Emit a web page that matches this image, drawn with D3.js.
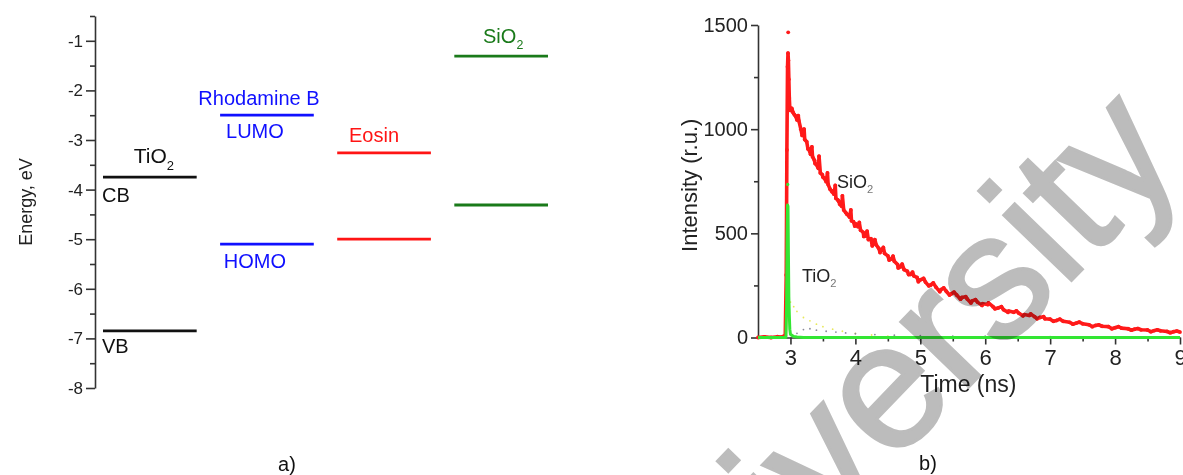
<!DOCTYPE html>
<html>
<head>
<meta charset="utf-8">
<script src="https://cdnjs.cloudflare.com/ajax/libs/d3/7.8.5/d3.min.js"></script>
<style>
  html, body { margin: 0; padding: 0; background: #fff; }
  svg { display: block; }
  text { font-family: Arial, "Liberation Sans", sans-serif; }
</style>
</head>
<body>
<svg id="chart" width="1183" height="475"></svg>
<script>
// ---- panel a) energy levels (eV) ----
const materials = ['TiO2', 'Rhodamine B', 'Eosin', 'SiO2'];
const upperLevels = [-3.75, -2.50, -3.26, -1.31];
const lowerLevels = [-6.85, -5.10, -5.00, -4.31];
const levelColors = ['#111111', '#1010ff', '#ff1414', '#1a7a1a'];
const energyTicks = [-8, -7, -6, -5, -4, -3, -2, -1];

// ---- panel b) decay curves ----
const sio2Time = [2.50, 2.60, 2.70, 2.80, 2.86, 2.92, 2.935, 2.945, 2.955, 2.962, 2.968, 2.975, 2.982, 2.99, 3.00,
  3.02, 3.04, 3.06, 3.08, 3.10, 3.13, 3.16, 3.19, 3.22, 3.25, 3.28, 3.31, 3.34, 3.37, 3.40, 3.43, 3.46, 3.49,
  3.52, 3.55, 3.58, 3.61, 3.64, 3.67, 3.70, 3.73, 3.76, 3.79, 3.82, 3.85, 3.88, 3.91, 3.94, 3.97, 4.00,
  4.04, 4.08, 4.12, 4.16, 4.20, 4.24, 4.28, 4.32, 4.36, 4.40, 4.45, 4.50, 4.55, 4.60, 4.65, 4.70, 4.75,
  4.80, 4.85, 4.90, 4.95, 5.00, 5.08, 5.16, 5.24, 5.32, 5.40, 5.48, 5.56, 5.64, 5.72, 5.80, 5.88, 5.96,
  6.04, 6.12, 6.20, 6.28, 6.36, 6.44, 6.52, 6.60, 6.68, 6.76, 6.84, 6.92, 7.00, 7.10, 7.20, 7.30, 7.40,
  7.50, 7.60, 7.70, 7.80, 7.90, 8.00, 8.10, 8.20, 8.30, 8.40, 8.50, 8.60, 8.70, 8.80, 8.90, 9.00];
const sio2Intensity = [0, 3, 0, 4, 2, 10, 300, 900, 1300, 1365, 1330, 1240, 1150, 1100, 1090,
  1100, 1080, 1070, 1062, 1045, 1040, 1000, 985, 950, 940, 905, 880, 868, 850, 830, 812, 790, 782,
  765, 748, 735, 712, 700, 688, 668, 660, 640, 630, 612, 600, 590, 578, 560, 556, 546,
  532, 515, 505, 488, 470, 474, 452, 445, 428, 420, 404, 392, 376, 366, 350, 340, 326,
  318, 303, 296, 288, 277, 266, 252, 242, 230, 222, 210, 204, 192, 186, 176, 170, 162,
  158, 148, 142, 134, 127, 121, 116, 110, 106, 100, 96, 90, 88, 82, 78, 73, 69,
  66, 61, 58, 54, 52, 47, 45, 42, 40, 37, 36, 33, 32, 29, 28, 26];
// noisy counts between the points above
const sio2Noise = [[3.12, 1065], [3.18, 970], [3.21, 1000], [3.27, 905], [3.33, 915], [3.38, 835],
  [3.44, 870], [3.50, 770], [3.57, 790], [3.63, 705], [3.69, 730], [3.74, 655], [3.80, 680], [3.87, 592],
  [3.93, 612], [3.99, 535], [4.06, 552], [4.13, 485], [4.18, 510], [4.26, 440], [4.30, 470], [4.38, 408],
  [4.43, 432], [4.52, 372], [4.58, 390], [4.66, 334], [4.72, 352], [4.82, 302], [4.88, 314], [4.97, 268],
  [5.05, 284], [5.13, 248], [5.20, 262], [5.30, 220], [5.36, 238], [5.45, 204], [5.52, 218], [5.62, 184],
  [5.70, 196], [5.78, 166], [5.85, 182], [5.95, 154], [6.05, 166], [6.15, 138], [6.25, 148], [6.35, 121],
  [6.48, 128], [6.58, 104], [6.70, 113], [6.80, 90], [6.90, 100], [7.05, 78], [7.15, 88], [7.35, 64],
  [7.45, 74], [7.65, 52], [7.75, 61], [7.95, 42], [8.05, 52], [8.25, 35], [8.35, 43], [8.55, 28],
  [8.65, 37], [8.85, 23], [8.95, 31]];
const sio2Outlier = [[2.965, 1465]];

const tio2Time = [2.50, 2.80, 2.93, 2.94, 2.948, 2.955, 2.962, 2.968, 2.975, 2.982, 2.99, 3.00, 3.05, 3.10, 3.20, 5.00, 7.00, 9.00];
const tio2Intensity = [0, 0, 0, 150, 480, 636, 630, 420, 196, 110, 40, 15, 5, 2, 0, 0, 0, 0];
const tio2Outlier = [[2.958, 735]];

const yellowTime = [3.00, 3.05, 3.10, 3.20, 3.30, 3.40, 3.50, 3.65, 3.80, 4.00, 4.25, 4.50, 5.00];
const yellowIntensity = [170, 148, 125, 96, 80, 64, 52, 40, 30, 20, 12, 7, 3];
const grayTime = [3.10, 3.20, 3.30, 3.40, 3.55, 3.70, 3.85, 4.00, 4.30, 4.60, 5.00, 5.50, 6.00, 7.00];
const grayIntensity = [20, 38, 42, 35, 30, 26, 22, 18, 14, 11, 9, 7, 6, 4];

const intensityTicks = [0, 500, 1000, 1500];
const timeTicks = [3, 4, 5, 6, 7, 8, 9];

const svg = d3.select('#chart');
svg.append('rect').attr('width', 1183).attr('height', 475).attr('fill', '#fff');

// ================= panel a =================
const yE = d3.scaleLinear().domain([-8, -0.5]).range([388, 16]);
const xM = d3.scaleBand().domain(materials).range([103, 548]).paddingInner(0.2);

const gA = svg.append('g');

const axisE = gA.append('g')
  .attr('transform', 'translate(95,0)')
  .call(d3.axisLeft(yE).tickValues(energyTicks).tickSize(9).tickSizeOuter(0).tickFormat(d => String(d)));
gA.append('g')
  .attr('transform', 'translate(95,0)')
  .call(d3.axisLeft(yE).tickValues(d3.range(-7.5, 0, 1)).tickSize(5).tickSizeOuter(0).tickFormat(''))
  .select('.domain').remove();
gA.selectAll('.domain, .tick line').attr('stroke', '#333').attr('stroke-width', 1.6);
axisE.selectAll('.tick text')
  .attr('font-size', 17).attr('fill', '#222').attr('x', -12)
  .attr('font-family', 'Arial, "Liberation Sans", sans-serif');

gA.append('text')
  .attr('transform', `translate(32,${yE(-4.25)}) rotate(-90)`)
  .attr('text-anchor', 'middle')
  .attr('font-size', 18).attr('fill', '#222')
  .text('Energy, eV');

const levels = materials.flatMap((m, i) => [
  { m, v: upperLevels[i], c: levelColors[i] },
  { m, v: lowerLevels[i], c: levelColors[i] }
]);
gA.selectAll('line.level')
  .data(levels).enter()
  .append('line')
  .classed('level', true)
  .attr('x1', d => xM(d.m))
  .attr('x2', d => xM(d.m) + xM.bandwidth())
  .attr('y1', d => yE(d.v))
  .attr('y2', d => yE(d.v))
  .attr('stroke', d => d.c)
  .attr('stroke-width', 2.8);

function label(g, x, y, txt, color, size, sub, anchor) {
  const t = g.append('text')
    .attr('x', x).attr('y', y)
    .attr('font-size', size)
    .attr('fill', color)
    .attr('text-anchor', anchor || 'start')
    .text(txt);
  if (sub) {
    t.append('tspan').attr('dy', size * 0.3).attr('font-size', size * 0.62).text(sub);
  }
  return t;
}

// TiO2
label(gA, xM('TiO2') + xM.bandwidth() / 2 + 4, yE(upperLevels[0]) - 14, 'TiO', '#111', 21, '2', 'middle');
label(gA, xM('TiO2') - 1, yE(upperLevels[0]) + 25, 'CB', '#111', 20);
label(gA, xM('TiO2') - 1, yE(lowerLevels[0]) + 22, 'VB', '#111', 20);
// Rhodamine B
label(gA, xM('Rhodamine B') + xM.bandwidth() / 2 - 8, yE(upperLevels[1]) - 10, 'Rhodamine B', levelColors[1], 20, null, 'middle');
label(gA, xM('Rhodamine B') + xM.bandwidth() / 2 - 12, yE(upperLevels[1]) + 23, 'LUMO', levelColors[1], 20, null, 'middle');
label(gA, xM('Rhodamine B') + xM.bandwidth() / 2 - 12, yE(lowerLevels[1]) + 24, 'HOMO', levelColors[1], 20, null, 'middle');
// Eosin
label(gA, xM('Eosin') + xM.bandwidth() / 2 - 10, yE(upperLevels[2]) - 11, 'Eosin', levelColors[2], 20, null, 'middle');
// SiO2
label(gA, xM('SiO2') + xM.bandwidth() / 2 + 2, yE(upperLevels[3]) - 13, 'SiO', levelColors[3], 20, '2', 'middle');

// ================= panel b =================
const xT = d3.scaleLinear().domain([2.5, 9]).range([758, 1180]);
const yI = d3.scaleLinear().domain([0, 1500]).range([337.5, 25]);
const gB = svg.append('g');

const yAxisB = gB.append('g')
  .attr('transform', `translate(${xT(2.5)},0)`)
  .call(d3.axisLeft(yI).tickValues(intensityTicks).tickSize(7).tickSizeOuter(0).tickFormat(d => String(d)));
gB.append('g')
  .attr('transform', `translate(${xT(2.5)},0)`)
  .call(d3.axisLeft(yI).tickValues([250, 750, 1250]).tickSize(4).tickFormat(''))
  .select('.domain').remove();
const xAxisB = gB.append('g')
  .attr('transform', `translate(0,${yI(0)})`)
  .call(d3.axisBottom(xT).tickValues(timeTicks).tickSize(7).tickSizeOuter(0).tickFormat(d => String(d)));
gB.append('g')
  .attr('transform', `translate(0,${yI(0)})`)
  .call(d3.axisBottom(xT).tickValues(d3.range(3.5, 9, 1)).tickSize(4).tickFormat(''))
  .select('.domain').remove();
gB.selectAll('.domain, .tick line').attr('stroke', '#333').attr('stroke-width', 1.6);
yAxisB.selectAll('.tick text')
  .attr('font-size', 20).attr('fill', '#222').attr('x', -10)
  .attr('font-family', 'Arial, "Liberation Sans", sans-serif');
xAxisB.selectAll('.tick text')
  .attr('font-size', 22).attr('fill', '#222').attr('y', 12)
  .attr('font-family', 'Arial, "Liberation Sans", sans-serif');

gB.append('text')
  .attr('transform', `translate(697,${yI(750) + 4}) rotate(-90)`)
  .attr('text-anchor', 'middle')
  .attr('font-size', 22).attr('fill', '#222')
  .text('Intensity (r.u.)');
gB.append('text')
  .attr('x', xT(5.74)).attr('y', 392)
  .attr('text-anchor', 'middle')
  .attr('font-size', 23).attr('fill', '#222')
  .text('Time (ns)');

const line = d3.line().x(d => xT(d[0])).y(d => yI(d[1]));
const plot = gB.append('g');

const yellowData = d3.zip(yellowTime, yellowIntensity);
plot.selectAll('circle.yel').data(yellowData).enter().append('circle')
  .attr('cx', d => xT(d[0])).attr('cy', d => yI(d[1])).attr('r', 0.9).attr('fill', '#e8e85a');
const grayData = d3.zip(grayTime, grayIntensity);
plot.selectAll('circle.gry').data(grayData).enter().append('circle')
  .attr('cx', d => xT(d[0])).attr('cy', d => yI(d[1])).attr('r', 0.9).attr('fill', '#8a8a9a');

// noisy red band: main points and noise points joined in time order
const sio2Data = d3.zip(sio2Time, sio2Intensity).concat(sio2Noise).sort((a, b) => a[0] - b[0]);
plot.append('path').datum(sio2Data)
  .attr('d', line).attr('fill', 'none')
  .attr('stroke', '#ff1a1a').attr('stroke-width', 3.6).attr('stroke-linejoin', 'round');
plot.selectAll('circle.red').data(sio2Data.concat(sio2Outlier)).enter().append('circle')
  .attr('cx', d => xT(d[0])).attr('cy', d => yI(d[1])).attr('r', 1.9).attr('fill', '#ff1a1a');

const tio2Data = d3.zip(tio2Time, tio2Intensity);
plot.append('path').datum(tio2Data)
  .attr('d', line).attr('fill', 'none')
  .attr('stroke', '#33e633').attr('stroke-width', 3).attr('stroke-linejoin', 'round');
plot.selectAll('circle.grn').data(tio2Outlier).enter().append('circle')
  .attr('cx', d => xT(d[0])).attr('cy', d => yI(d[1])).attr('r', 1.6).attr('fill', '#33e633');

label(gB, 837, 188, 'SiO', '#222', 18, '2').select('tspan').attr('fill', '#777');
label(gB, 802, 282, 'TiO', '#222', 18, '2').select('tspan').attr('fill', '#777');

// captions
svg.append('text').attr('x', 287).attr('y', 471).attr('text-anchor', 'middle')
  .attr('font-family', '"Times New Roman", "Liberation Serif", serif').attr('font-size', 20).attr('fill', '#111')
  .text('a)');
svg.append('text').attr('x', 928).attr('y', 470).attr('text-anchor', 'middle')
  .attr('font-family', '"Times New Roman", "Liberation Serif", serif').attr('font-size', 20).attr('fill', '#111')
  .text('b)');

// watermark
svg.append('text')
  .attr('transform', 'translate(644,723) rotate(-46)')
  .attr('font-size', 178)
  .attr('fill', '#bcbcbc')
  .attr('stroke', '#bcbcbc')
  .attr('stroke-width', 3)
  .style('mix-blend-mode', 'multiply')
  .text('University');
</script>
</body>
</html>
